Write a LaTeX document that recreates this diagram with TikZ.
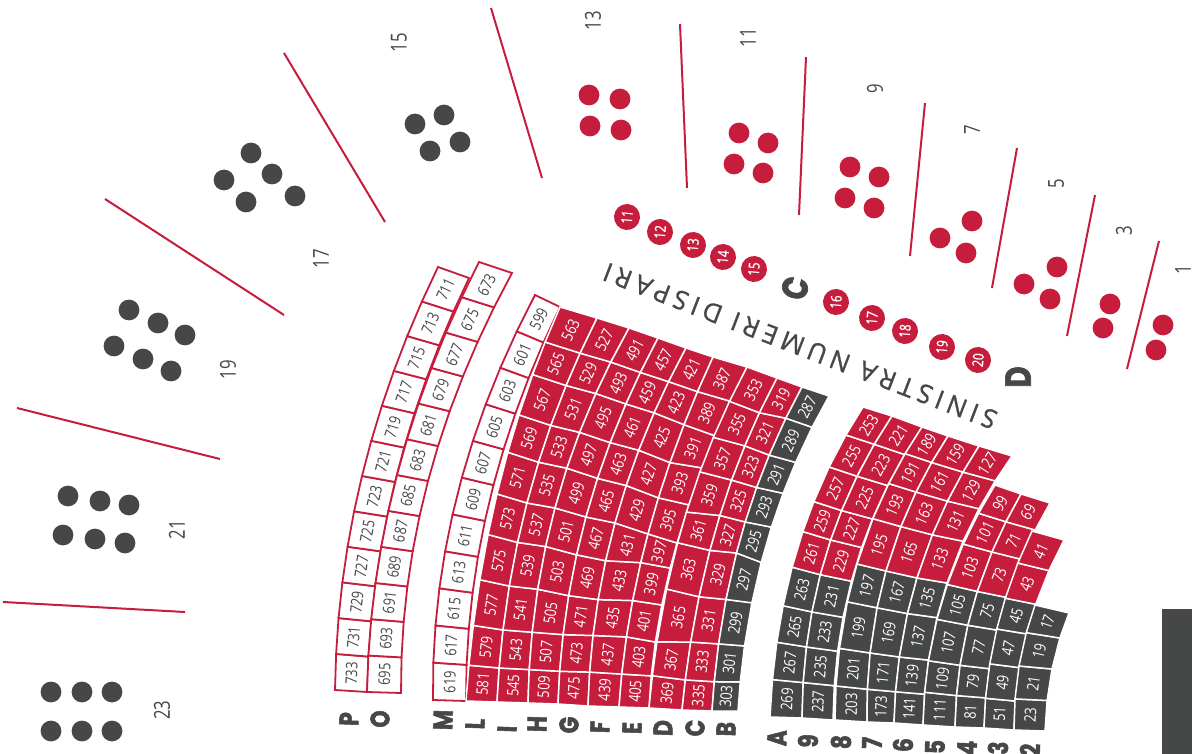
\documentclass[tikz,border=0pt]{standalone}
\usepackage{fontspec}
\setmainfont{Open Sans}
\newfontfamily\seatfont[FakeStretch=0.8]{Open Sans}
\newfontfamily\lblfont[FakeStretch=0.76]{Open Sans}
\newfontfamily\circfont[FakeStretch=0.78,FakeBold=1]{Open Sans}
\newfontfamily\letfont[FakeStretch=0.8,FakeBold=2]{Poppins Bold}
\newfontfamily\titlefont[LetterSpace=19.5,FakeBold=1]{Open Sans}
\definecolor{crim}{RGB}{198,29,61}
\definecolor{slate}{RGB}{70,72,71}
\tikzset{
  seatcell/.style={line width=1.5pt,line join=miter},
  whitecell/.style={line width=1.8pt,line join=miter},
  seatnum/.style={inner sep=0pt,font=\seatfont\fontsize{16}{17}\selectfont},
  dot/.style={circle,inner sep=0pt,minimum size=20.8pt,fill=#1},
  numdot/.style={circle,inner sep=0pt,minimum size=26pt,fill=crim,text=white,font=\circfont\fontsize{15}{16}\selectfont,rotate=85},
  rowlet/.style={inner sep=0pt,text=slate,font=\letfont\fontsize{27}{28}\selectfont,rotate=88},
  biglet/.style={inner sep=0pt,text=slate,font=\letfont\fontsize{36}{37}\selectfont},
  sect/.style={inner sep=0pt,text=slate,rotate=90,font=\lblfont\fontsize{22}{24}\selectfont},
  divider/.style={draw=crim,line width=2pt}
}
\def\parseA#1,#2,#3,#4,#5,#6\relax{\def\axa{#1}\def\aya{#2}\def\axb{#3}\def\ayb{#4}\def\axc{#5}\def\ayc{#6}}
\def\parseB#1,#2,#3,#4,#5,#6\relax{\def\bxa{#1}\def\bya{#2}\def\bxb{#3}\def\byb{#4}\def\bxc{#5}\def\byc{#6}}
\newcommand\lagr[5]{\pgfmathsetmacro#1{(2*#2*#2-3*#2+1)*#3+4*#2*(1-#2)*#4+#2*(2*#2-1)*#5}}
% left curve, right curve, first number, rows, grey rows, kind (0 red, 1 white), row fractions left, right
\newcommand\seatcol[8]{%
  \parseA#1\relax\parseB#2\relax
  \pgfmathtruncatemacro\lastrow{#4-1}
  \foreach \r in {0,...,\lastrow}{
    \ifx\relax#7\relax
      \pgfmathsetmacro\va{\r/#4}
      \pgfmathsetmacro\vb{(\r+1)/#4}
      \let\vc\va \let\vd\vb
    \else
      \pgfmathsetmacro\va{{#7}[\r]}
      \pgfmathsetmacro\vb{{#7}[\r+1]}
      \pgfmathsetmacro\vc{{#8}[\r]}
      \pgfmathsetmacro\vd{{#8}[\r+1]}
    \fi
    \lagr\xa\va\axa\axb\axc \lagr\ya\va\aya\ayb\ayc
    \lagr\xb\vc\bxa\bxb\bxc \lagr\yb\vc\bya\byb\byc
    \lagr\xc\vd\bxa\bxb\bxc \lagr\yc\vd\bya\byb\byc
    \lagr\xd\vb\axa\axb\axc \lagr\yd\vb\aya\ayb\ayc
    \pgfmathtruncatemacro\num{#3-2*\r}
    \pgfmathsetmacro\cx{(\xa+\xb+\xc+\xd)/4}
    \pgfmathsetmacro\cy{(\ya+\yb+\yc+\yd)/4}
    \pgfmathsetmacro\ang{atan2(-(\yc+\yd-\ya-\yb),\xc+\xd-\xa-\xb)}
    \ifnum#6=1
      \path[whitecell,draw=crim,fill=white] (\xa,\ya)--(\xb,\yb)--(\xc,\yc)--(\xd,\yd)--cycle;
      \node[seatnum,text=slate,rotate=\ang] (s\num) at (\cx,\cy) {\num};
    \else
      \ifnum\r<#5
        \path[seatcell,draw=white,fill=slate] (\xa,\ya)--(\xb,\yb)--(\xc,\yc)--(\xd,\yd)--cycle;
      \else
        \path[seatcell,draw=white,fill=crim] (\xa,\ya)--(\xb,\yb)--(\xc,\yc)--(\xd,\yd)--cycle;
      \fi
      \node[seatnum,text=white,rotate=\ang] (s\num) at (\cx,\cy) {\num};
    \fi
  }%
}
\def\vL{0,.083,.177,.287,.398,.5,.607,.705,.813,.902,1}
\def\vLd{0,.086,.183,.287,.397,.5,.606,.705,.813,.902,1}
\def\vLc{0,.091,.19,.288,.395,.5,.605,.705,.812,.902,1}
\def\vLa{0,.096,.204,.309,.418,.5,.603,.703,.81,.903,1}
\def\vLb{0,.100,.204,.316,.426,.5,.611,.717,.808,.905,1}
\def\vDa{0,.085,.176,.322,.454,.544,.665,.772,.887,1}
\def\vDb{0,.08,.183,.31,.445,.55,.66,.77,.88,1}
\def\vDc{0,.082,.19,.32,.46,.556,.665,.77,.893,1}
\def\vDd{0,.084,.19,.32,.445,.557,.667,.77,.89,1}
\def\vA{0,.106,.215,.325,.445,.56,.66,.78,.895,1}
\def\vE{0,.104,.222,.373,.5,.658,.785,.897,1}
\def\vF{0,.129,.255,.424,.569,.741,.875,1}
\def\vG{0,.147,.319,.495,.652,.833,1}
\def\vH{0,.24,.5,.77,1}
\begin{document}
\begin{tikzpicture}[x=1pt,y=-1pt]
\useasboundingbox (0,0) rectangle (1192,754);
\fill[slate] (1162,609) rectangle (1192,754);
% dividers
\foreach \n/\ax/\ay/\bx/\by in {a/3/602/185/612,b/17/408/220/459,c/105/199/284/315,d/284/53/385/222,e/491/8/542/178,f/680/24/687/188,g/806/57/799/215,h/925/103/910/256,i/1017/148/992/288,j/1095/195/1067/336,k/1159/241/1127/369}{
  \coordinate (d\n a) at (\ax,\ay);
  \coordinate (d\n b) at (\bx,\by);
  \draw[divider] (d\n a) -- (d\n b);
}
% grey standing dots
\foreach \x/\y [count=\i] in {51/692,82/692,112/692,51/731,82/731,112/731,68/496,100/501,129/505,63/535,95/539,125/543,129/310,158/323,185/335,114/346,143/359,171/371,251/153,272/174,295/196,224/180,246/202,444/115,460/142,415/124,430/151}
  \node[dot=slate] (g\i) at (\x,\y) {};
% red standing dots
\foreach \x/\y [count=\i] in {589/95,620/99,590/126,621/130,739/133,768/143,734/164,763/173,850/167,879/177,845/198,874/208,972/221,940/238,966/253,1057/267,1024/284,1050/299,1110/304,1103/328,1163/325,1156/350}
  \node[dot=crim] (r\i) at (\x,\y) {};
% numbered dots
\foreach \t/\x/\y in {11/627/217,12/660/232,13/693/245,14/723/257,15/754/269,16/836/302,17/872/318,18/905/331,19/942/347,20/978/360}
  \node[numdot] (n\t) at (\x,\y) {\t};
% section numbers
\foreach \t/\x/\y in {23/162/710,21/177/530,19/228/370,17/321/259,15/399/43,13/593/21,11/748/38,9/875/89,7/972/130,5/1056/184,3/1124/231,1/1183/270}
  \node[sect] (l\t) at (\x,\y) {\t};
% row letters
\foreach \t/\x/\y in {P/349/719,O/380/719,M/443/720,L/475/724,I/507/729,H/537/724,G/569/725,F/600/727,E/632/728,D/663/728,C/695/728,B/726/729,A/777/738,9/808/741,8/841/742,7/872/743,6/903/745,5/935/747,4/967/748,3/998/748,2/1030/750}
  \node[rowlet] (k\t) at (\x,\y) {\t};
\node[biglet,rotate=75] (topC) at (795,288) {C};
\node[biglet,rotate=90] (topD) at (1018,377) {D};
\node[inner sep=0pt,text=slate,rotate=159,font=\titlefont\fontsize{26}{28}\selectfont] (title) at (800,346) {SINISTRA NUMERI DISPARI};
% seats
\seatcol{335,690,362,476,438,267}{367,692,395,482,469,278}{733}{12}{0}{1}{}{}
\seatcol{367,692,397,475,479,262}{401,693,428,481,512,273}{695}{12}{0}{1}{}{}
\seatcol{433,700,457,496,535,295}{466,701,489,503,560,307}{619}{11}{0}{1}{}{}
\seatcol{466,701,497,494,560,307}{497,702,527,503,597,318}{581}{10}{0}{0}{\vL}{\vL}
\seatcol{497,702,527,503,597,318}{528,703,555,508,629,328}{545}{10}{0}{0}{\vL}{\vL}
\seatcol{528,703,555,508,629,328}{558,704,586,517,658,338}{509}{10}{0}{0}{\vL}{\vLd}
\seatcol{558,704,586,517,658,338}{588,706,615,523,686,348}{475}{10}{0}{0}{\vLd}{\vLc}
\seatcol{588,706,615,523,686,348}{619,707,648,534,713,357}{439}{10}{0}{0}{\vLc}{\vLa}
\seatcol{619,707,648,534,713,357}{649,708,677,543,747,367}{405}{10}{0}{0}{\vLa}{\vLb}
\seatcol{649,708,682,527,747,367}{682,710,715,532,777,378}{369}{9}{0}{0}{\vDa}{\vDb}
\seatcol{682,710,715,532,777,378}{712,711,740,540,802,387}{335}{9}{0}{0}{\vDb}{\vDc}
\seatcol{712,711,740,540,802,387}{738,711,766,545,829,396}{303}{9}{9}{0}{\vDc}{\vDd}
\seatcol{770,717,797,550,863,407}{802,718,825,558,892,416}{269}{9}{4}{0}{\vA}{\vA}
\seatcol{802,718,825,558,892,416}{833,720,856,565,922,427}{237}{9}{4}{0}{\vA}{\vA}
\seatcol{835,720,857,564,922,427}{867,722,886,571,948,436}{203}{8}{4}{0}{\vE}{\vE}
\seatcol{867,722,886,571,948,436}{894,723,917,578,979,446}{173}{8}{4}{0}{\vE}{\vE}
\seatcol{894,723,917,578,979,446}{923,725,947,583,1012,456}{141}{8}{4}{0}{\vE}{\vE}
\seatcol{923,725,942,601,995,485}{955,727,972.5,607.5,1021,494}{111}{7}{4}{0}{\vF}{\vF}
\seatcol{955,727,972.5,607.5,1021,494}{984,728,1002,613,1050,503}{81}{7}{4}{0}{\vF}{\vF}
\seatcol{984,728,997,628,1032,531}{1014,730,1027,633,1064,540}{51}{6}{4}{0}{\vG}{\vG}
\seatcol{1014,730,1019,666,1035,605}{1045,731,1052,669,1069,613}{23}{4}{4}{0}{\vH}{\vH}
\end{tikzpicture}
\end{document}
